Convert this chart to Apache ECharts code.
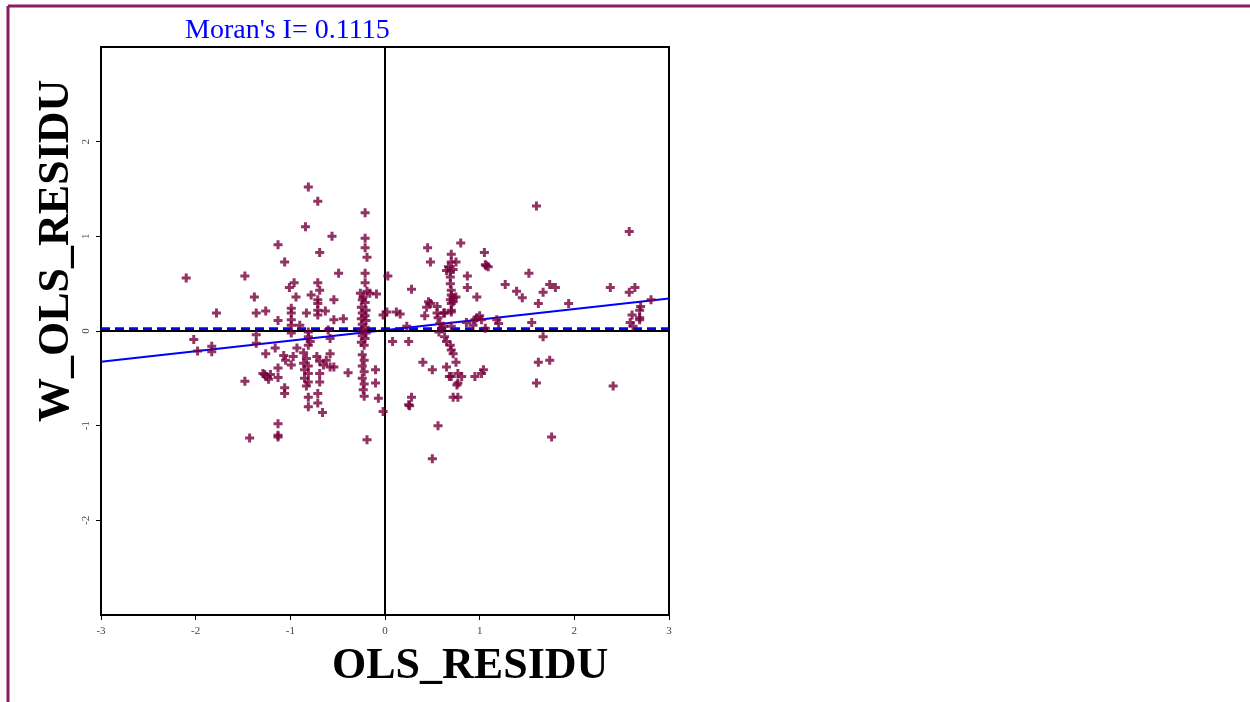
<!DOCTYPE html>
<html>
<head>
<meta charset="utf-8">
<title>Moran scatter</title>
<script src="https://cdn.jsdelivr.net/npm/echarts@6/dist/echarts.min.js"></script>
<style>
    html, body { margin: 0; padding: 0; background: #fff; }
    #main { width: 1250px; height: 702px; }
</style>
</head>
<body>
<div id="main"></div>
<script>
// 数据: OLS残差 与 空间滞后残差
var olsResidu = [
    -2.10, -1.78, -2.02, -1.98, -1.83, -1.83, -1.48, -1.48, -1.43, -1.38,
    -1.36, -1.26, -1.36, -1.36, -1.26, -1.29, -1.25, -1.23, -1.21, -1.27,
    -1.13, -1.06, -1.13, -1.16, -1.13, -1.13, -1.13, -1.13, -1.13, -1.07,
    -1.06, -1.06, -1.05, -1.01, -0.96, -0.99, -0.99, -0.99, -0.99, -0.99,
    -0.97, -0.99, -0.93, -0.94, -0.90, -0.84, -0.81, -0.71, -0.78, -0.71,
    -0.69, -0.71, -0.83, -0.71, -0.71, -0.71, -0.63, -0.81, -0.81, -0.79,
    -0.81, -0.60, -0.58, -0.69, -0.56, -0.49, -0.54, -0.54, -0.44, -0.86,
    -0.83, -0.86, -0.81, -0.85, -0.81, -0.85, -0.81, -0.83, -0.81, -0.81,
    -0.71, -0.71, -0.66, -0.72, -0.69, -0.65, -0.58, -0.62, -0.58, -0.69,
    -0.54, -0.69, -0.39,
    -0.21, -0.21, -0.21, -0.19, -0.21, -0.21, -0.26, -0.23, -0.19, -0.16,
    -0.09, -0.24, -0.21, -0.25, -0.20, -0.24, -0.21, -0.25, -0.20, -0.24,
    -0.21, -0.25, -0.20, -0.24, -0.21, -0.25, -0.22, -0.24, -0.22, -0.24,
    -0.22, -0.24, -0.22, -0.23, -0.22, -0.10, -0.10, -0.07, -0.02, -0.19,
    0.03, 0.02, -0.02, 0.12, 0.16, 0.08, 0.25,
    0.25, 0.23, 0.28, 0.28, 0.26, 0.40, 0.42, 0.45, 0.48, 0.46,
    0.48, 0.44, 0.50, 0.50, 0.56, 0.55, 0.55, 0.56, 0.58, 0.60,
    0.57, 0.62, 0.62, 0.63, 0.65, 0.69, 0.70, 0.72, 0.65, 0.68,
    0.70, 0.77, 0.81, 0.77, 0.76, 0.75, 0.72, 0.77, 0.70, 0.70,
    0.70, 0.67, 0.65, 0.69, 0.72, 0.75, 0.69, 0.69, 0.70, 0.70,
    0.72, 0.69, 0.72, 0.75, 0.70, 0.70, 0.70, 0.63, 0.80, 0.87,
    0.87, 0.86, 0.97, 0.95, 0.97, 1.00, 1.02, 0.93, 1.06, 0.95,
    1.04, 1.02, 1.05, 1.06, 1.09, 1.07, 1.18, 1.20, 1.27, 1.39,
    1.45, 1.52, 1.55, 1.60, 1.60, 1.62, 1.62, 1.67, 1.67, 1.74,
    1.80, 1.74, 1.76, 1.94, 2.38, 2.41, 2.58, 2.58, 2.64, 2.81,
    2.70, 2.69, 2.61, 2.59, 2.62, 2.69, 2.69
];
var wOlsResidu = [
    0.56, 0.19, -0.09, -0.21, -0.16, -0.22, 0.58, -0.53, -1.13, 0.36,
    0.19, 0.21, -0.13, -0.04, -0.24, -0.45, -0.48, -0.51, -0.46, -0.46,
    0.91, 0.73, 0.11, -0.18, -0.39, -0.49, -0.98, -1.10, -1.12, -0.26,
    -0.60, -0.66, -0.31, 0.46, 0.51, 0.24, 0.19, 0.12, 0.06, -0.02,
    -0.27, -0.36, -0.18, 0.36, 0.06, 1.10, 1.52, 1.37, 0.38, 0.51,
    0.43, 0.33, 0.19, 0.29, 0.22, 0.17, 0.21, -0.01, -0.06, -0.11,
    -0.15, 0.01, -0.08, 0.83, 1.00, 0.61, 0.33, 0.12, 0.13, -0.23,
    -0.29, -0.34, -0.37, -0.41, -0.45, -0.50, -0.54, -0.58, -0.70, -0.80,
    -0.66, -0.76, -0.86, -0.27, -0.32, -0.36, -0.24, -0.31, -0.38, -0.45,
    -0.38, -0.54, -0.44,
    1.25, 0.98, 0.88, 0.78, 0.61, 0.51, 0.40, 0.36, 0.42, 0.40,
    0.39, 0.33, 0.30, 0.25, 0.22, 0.19, 0.16, 0.13, 0.11, 0.07,
    0.04, 0.01, -0.02, -0.05, -0.08, -0.12, -0.15, -0.25, -0.31, -0.37,
    -0.43, -0.50, -0.56, -0.62, -0.69, -0.41, -0.55, -0.71, -0.85, -1.15,
    0.58, 0.20, 0.17, 0.20, 0.18, -0.11, -0.78,
    -0.11, 0.05, 0.44, -0.70, -0.79, -0.33, 0.16, 0.88, 0.73, 0.31,
    0.29, 0.25, -0.41, -1.35, -1.00, 0.26, 0.19, 0.14, 0.08, 0.03,
    -0.01, 0.05, 0.19, -0.06, -0.11, -0.15, -0.20, -0.24, -0.38, -0.48,
    -0.48, -0.45, -0.48, -0.55, -0.57, -0.33, -0.70, -0.70, 0.05, 0.81,
    0.73, 0.68, 0.64, 0.63, 0.65, 0.73, 0.57, 0.50, 0.43, 0.38,
    0.35, 0.33, 0.31, 0.36, 0.29, 0.22, 0.20, 0.19, 0.93, 0.58,
    0.46, 0.09, 0.36, 0.12, 0.14, 0.16, 0.12, 0.06, 0.03, -0.48,
    -0.41, -0.45, 0.83, 0.70, 0.68, 0.69, 0.12, 0.08, 0.49, 0.42,
    0.35, 0.61, 0.09, 1.32, -0.55, 0.29, -0.33, 0.41, -0.06, 0.49,
    0.46, -0.31, -1.12, 0.29, 0.46, -0.58, 1.05, 0.41, 0.46, 0.33,
    0.26, 0.22, 0.17, 0.09, 0.05, 0.14, 0.12
];
var moranI = 0.1115;          // 斜率
var fitIntercept = 0.01;      // 回归线截距
var meanLevel = 0.025;        // 虚线位置
var axisTicks = [-3, -2, -1, 0, 1, 2, 3];

var points = [];
for (var i = 0; i < olsResidu.length; i++) {
    points.push([olsResidu[i], wOlsResidu[i]]);
}
var xMin = axisTicks[0], xMax = axisTicks[axisTicks.length - 1];

var myChart = echarts.init(document.getElementById('main'));

var serif = '"Liberation Serif", "DejaVu Serif", serif';
var plusPath = 'path://M3 0h3v3h3v3H6v3H3V6H0V3h3z';

var option = {
    backgroundColor: '#fff',
    animation: false,
    title: {
        text: "Moran's I= 0.1115",
        left: 180,
        top: 12,
        textStyle: {
            color: '#0000ff',
            fontFamily: serif,
            fontWeight: 'normal',
            fontSize: 28
        }
    },
    grid: {
        left: 101,
        top: 47,
        width: 568,
        height: 568,
        show: true,
        borderColor: '#000',
        borderWidth: 2
    },
    xAxis: {
        type: 'value',
        min: xMin,
        max: xMax,
        interval: 1,
        splitLine: { show: false },
        axisLine: { onZero: false, lineStyle: { color: '#000', width: 2 } },
        axisTick: { length: 5, lineStyle: { color: '#000' } },
        axisLabel: {
            color: '#444',
            fontFamily: serif,
            fontSize: 11,
            margin: 11
        }
    },
    yAxis: {
        type: 'value',
        min: xMin,
        max: xMax,
        interval: 1,
        splitLine: { show: false },
        axisLine: { onZero: false, lineStyle: { color: '#000', width: 2 } },
        axisTick: { length: 5, lineStyle: { color: '#000' } },
        axisLabel: {
            color: '#444',
            fontFamily: serif,
            fontSize: 11,
            rotate: 90,
            margin: 9,
            showMinLabel: false,
            showMaxLabel: false
        }
    },
    graphic: [
        // 外框 (上边与左边)
        { type: 'line', shape: { x1: 8, y1: 6, x2: 1250, y2: 6 },
          style: { stroke: '#8a1d5e', lineWidth: 3 } },
        { type: 'line', shape: { x1: 8, y1: 6, x2: 8, y2: 702 },
          style: { stroke: '#8a1d5e', lineWidth: 3 } },
        {
            type: 'text',
            left: 332,
            top: 645,
            style: {
                text: 'OLS_RESIDU',
                fill: '#000',
                font: 'bold 44px ' + serif
            }
        },
        {
            type: 'text',
            x: 35,
            y: 422,
            rotation: Math.PI / 2,
            style: {
                text: 'W_OLS_RESIDU',
                fill: '#000',
                font: 'bold 44px ' + serif
            }
        }
    ],
    series: [
        {
            name: 'zero',
            type: 'line',
            data: [],
            markLine: {
                silent: true,
                symbol: ['none', 'none'],
                label: { show: false },
                lineStyle: { color: '#000', width: 2, type: 'solid' },
                data: [{ xAxis: 0 }, { yAxis: 0 }]
            }
        },
        {
            name: 'mean',
            type: 'line',
            symbol: 'none',
            lineStyle: { color: '#0000ff', width: 3, type: [9, 5] },
            data: [[xMin, meanLevel], [xMax, meanLevel]]
        },
        {
            name: 'fit',
            type: 'line',
            symbol: 'none',
            lineStyle: { color: '#0000ff', width: 2 },
            data: [
                [xMin, fitIntercept + moranI * xMin],
                [xMax, fitIntercept + moranI * xMax]
            ]
        },
        {
            name: 'residuals',
            type: 'scatter',
            symbol: plusPath,
            symbolSize: 9,
            itemStyle: { color: '#76003c' },
            data: points,
            z: 5
        }
    ]
};

myChart.setOption(option);
</script>
</body>
</html>
